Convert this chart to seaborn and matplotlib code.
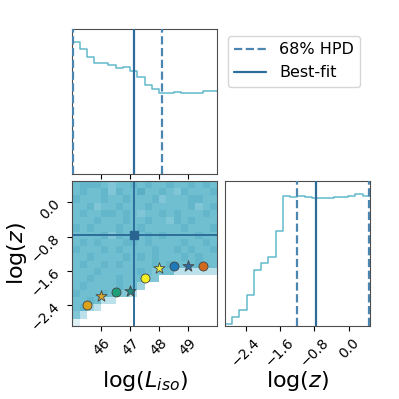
"""
Corner-style plot: marginal histograms of log(L_iso) and log(z) with a 2D density panel.
"""
import matplotlib

matplotlib.use("Agg")
import matplotlib.pyplot as plt
from matplotlib.colors import LinearSegmentedColormap
from matplotlib.lines import Line2D
import numpy as np
import pandas as pd
import seaborn as sns

# --- data ---
L_RANGE = (45.0, 50.0)
Z_RANGE = (-2.88, 0.5)
N_BINS = 20

# marginal counts (20 bins each)
L_counts = [397, 376, 354, 334, 334, 328, 319, 322, 312, 292,
            269, 255, 245, 245, 247, 244, 244, 244, 249, 249]
z_counts = [6, 26, 48, 94, 166, 188, 206, 284, 388, 387,
            389, 385, 382, 382, 384, 385, 386, 390, 394, 390]

# 2D density shade per cell, top row = highest z bin, left column = lowest L bin
density_rows = [
    "67776566767667667676",
    "67667576686676576667",
    "76667667666756667766",
    "66756676667666667567",
    "67667767656676766676",
    "66676667667665767666",
    "76766676676666676667",
    "66667576667676666766",
    "67676667767666676676",
    "76667676666766767667",
    "66766667676766676766",
    "67667676666767666766",
    "66676666676566333333",
    "66766676665500000000",
    "67666676640000000000",
    "76667655300000000000",
    "66763300000000000000",
    "67430000000000000000",
    "53000000000000000000",
    "20000000000000000000",
]

best_L, best_z = 47.12, -0.75
hpd_L = (45.02, 48.1)
hpd_z = (-1.2, 0.48)

# reference points
pts_L = [45.5, 46.0, 46.5, 47.0, 47.5, 48.0, 48.5, 49.0, 49.5]
pts_z = [-2.38, -2.18, -2.09, -2.07, -1.76, -1.54, -1.49, -1.49, -1.49]
pts_marker = ["o", "*", "o", "*", "o", "*", "o", "*", "o"]
pts_color = ["#dba21c", "#d9a52a", "#1f9e7a", "#1d8f86", "#f2f022",
             "#eeee44", "#1f78b8", "#2b6ea6", "#cf6a20"]

HIST_COLOR = "#62b9cb"
SOLID = "#2e6d9a"
DASHED = "#4a86b0"


def main() -> None:
    sns.set_style("ticks")
    plt.rcParams["font.family"] = ["DejaVu Sans"]
    for key in ("text.color", "axes.labelcolor", "xtick.color", "ytick.color"):
        plt.rcParams[key] = "black"

    L_edges = np.linspace(*L_RANGE, N_BINS + 1)
    z_edges = np.linspace(*Z_RANGE, N_BINS + 1)
    L_mid = 0.5 * (L_edges[:-1] + L_edges[1:])
    z_mid = 0.5 * (z_edges[:-1] + z_edges[1:])

    grid = np.array([[int(c) for c in r] for r in density_rows])[::-1]  # row 0 = lowest z
    zz, ll = np.meshgrid(z_mid, L_mid, indexing="ij")
    cells = pd.DataFrame({"L": ll.ravel(), "z": zz.ravel(), "w": grid.ravel()})
    L_df = pd.DataFrame({"L": L_mid, "n": L_counts})
    z_df = pd.DataFrame({"z": z_mid, "n": z_counts})

    fig = plt.figure(figsize=(3.99, 3.99), dpi=100)
    ax_top = fig.add_axes([0.1812, 0.5639, 0.3627, 0.3627])
    ax_2d = fig.add_axes([0.1812, 0.1830, 0.3627, 0.3634])
    ax_z = fig.add_axes([0.5639, 0.1830, 0.3634, 0.3634])

    # top-left: log(L_iso) marginal
    sns.histplot(data=L_df, x="L", weights="n", bins=N_BINS, binrange=L_RANGE,
                 element="step", fill=False, color=HIST_COLOR, linewidth=1.1,
                 ax=ax_top)
    ax_top.set_xlim(*L_RANGE)
    ax_top.set_ylim(0, 1.1 * max(L_counts))
    for v in hpd_L:
        ax_top.axvline(v, color=DASHED, ls="--", lw=1.6, zorder=3)
    ax_top.axvline(best_L, color=SOLID, lw=1.6, zorder=3)
    ax_top.set_xticks([46, 47, 48, 49])
    ax_top.set_xticklabels([])
    ax_top.set_yticks([])
    ax_top.set_xlabel("")
    ax_top.set_ylabel("")

    # bottom-right: log(z) marginal
    sns.histplot(data=z_df, x="z", weights="n", bins=N_BINS, binrange=Z_RANGE,
                 element="step", fill=False, color=HIST_COLOR, linewidth=1.1,
                 ax=ax_z)
    ax_z.set_xlim(*Z_RANGE)
    ax_z.set_ylim(0, 1.1 * max(z_counts))
    for v in hpd_z:
        ax_z.axvline(v, color=DASHED, ls="--", lw=1.6, zorder=3)
    ax_z.axvline(best_z, color=SOLID, lw=1.6, zorder=3)
    ax_z.set_xticks([-2.4, -1.6, -0.8, 0.0])
    ax_z.set_xticklabels(["\u22122.4", "\u22121.6", "\u22120.8", "0.0"],
                         rotation=45, fontsize=10)
    ax_z.set_yticks([])
    ax_z.set_ylabel("")
    ax_z.set_xlabel("log($z$)", fontsize=16)
    ax_z.xaxis.set_label_coords(0.5, -0.3)

    # bottom-left: 2D density
    cmap = LinearSegmentedColormap.from_list(
        "dens",
        [(0.0, "#ffffff"), (0.25, "#dff1f5"), (0.45, "#a9d8e3"),
         (0.65, "#7cc4d5"), (0.8, "#6bbccf"), (1.0, "#5aafc6")],
    )
    sns.histplot(data=cells, x="L", y="z", weights="w", bins=N_BINS,
                 binrange=[L_RANGE, Z_RANGE], cmap=cmap, vmin=0, vmax=8, ax=ax_2d)
    ax_2d.axvline(best_L, color=SOLID, lw=1.4)
    ax_2d.axhline(best_z, color=SOLID, lw=1.4)
    ax_2d.plot(best_L, best_z, "s", color="#2a6592", ms=6)
    for lx, lz, m, c in zip(pts_L, pts_z, pts_marker, pts_color):
        ax_2d.scatter(lx, lz, marker=m, s=70 if m == "*" else 42, color=c,
                      edgecolor="#444444", linewidth=0.6, zorder=5)
    ax_2d.set_xlim(*L_RANGE)
    ax_2d.set_ylim(*Z_RANGE)
    ax_2d.set_xticks([46, 47, 48, 49])
    ax_2d.set_xticklabels(["46", "47", "48", "49"], rotation=45, fontsize=10)
    ax_2d.set_yticks([0.0, -0.8, -1.6, -2.4])
    ax_2d.set_yticklabels(["0.0", "\u22120.8", "\u22121.6", "\u22122.4"],
                          rotation=45, fontsize=10)
    ax_2d.set_xlabel("log($L_{iso}$)", fontsize=16)
    ax_2d.set_ylabel("log($z$)", fontsize=16)
    ax_2d.xaxis.set_label_coords(0.5, -0.3)
    ax_2d.yaxis.set_label_coords(-0.3, 0.5)

    for ax in (ax_top, ax_2d, ax_z):
        for s in ax.spines.values():
            s.set_visible(True)
            s.set_color("0.3")

    handles = [Line2D([], [], color=DASHED, ls="--", lw=1.6),
               Line2D([], [], color=SOLID, lw=1.6)]
    fig.legend(handles, ["68% HPD", "Best-fit"], loc="upper left",
               bbox_to_anchor=(228 / 399, 1 - 36 / 399), borderaxespad=0,
               fontsize=11.5, frameon=True)

    fig.savefig("out.png", dpi=100)
    plt.close(fig)


if __name__ == "__main__":
    main()
